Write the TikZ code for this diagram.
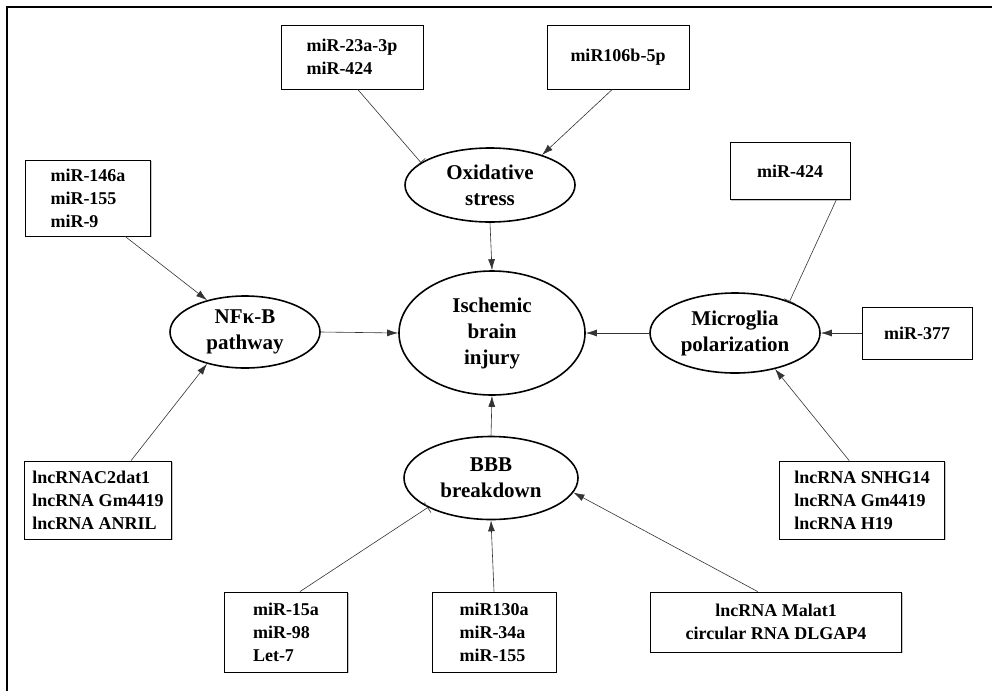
\documentclass[tikz,border=0pt]{standalone}
\usepackage{fontspec}
\setmainfont{Liberation Serif}
\usetikzlibrary{arrows.meta,positioning,shapes.geometric,shadows}

\tikzset{
  mirbox/.style={draw,line width=0.8pt,rectangle,align=left,fill=white,
    drop shadow={shadow xshift=1.3pt,shadow yshift=-1.3pt,fill=black!45},
    font=\bfseries\fontsize{18}{23}\selectfont},
  effect/.style={draw,line width=1.6pt,ellipse,align=center,inner sep=0pt,
    font=\bfseries\fontsize{21}{26}\selectfont},
  act/.style={-{Latex[length=11pt,width=7pt]},draw=black!80,line width=0.6pt},
  inh/.style={-{Bar[width=12pt]},draw=black!80,line width=0.6pt},
}

\begin{document}
\begin{tikzpicture}[x=1pt,y=-1pt]
  \useasboundingbox (0,0) rectangle (992,691);
  \draw[line width=1.6pt] (7,691) -- (7,7) -- (992,7);

  % processes
  \node[effect,minimum width=170pt,minimum height=74pt] (ox) at (490,185) {Oxidative\\stress};
  \node[effect,minimum width=186pt,minimum height=124pt] (isch) at (492,333) {Ischemic\\brain\\injury};
  \node[effect,minimum width=150pt,minimum height=72pt] (nfkb) at (245,332) {NFκ-B\\pathway};
  \node[effect,minimum width=170pt,minimum height=80pt] (micro) at (735,333) {Microglia\\polarization};
  \node[effect,minimum width=174pt,minimum height=83pt] (bbb) at (491,478) {BBB\\breakdown};

  % regulators
  \node[mirbox,minimum width=142pt,minimum height=64pt] (m23) at (352,57) {miR-23a-3p\\miR-424};
  \node[mirbox,minimum width=142pt,minimum height=64pt] (m106) at (618,57) {miR106b-5p};
  \node[mirbox,minimum width=125pt,minimum height=76pt] (m146) at (88,198) {miR-146a\\miR-155\\miR-9};
  \node[mirbox,minimum width=120pt,minimum height=57pt] (m424) at (790,171) {miR-424};
  \node[mirbox,minimum width=110pt,minimum height=52pt] (m377) at (917,333) {miR-377};
  \node[mirbox,minimum width=147pt,minimum height=78pt] (lncl) at (98,500) {lncRNAC2dat1\\lncRNA Gm4419\\lncRNA ANRIL};
  \node[mirbox,minimum width=165pt,minimum height=78pt] (lncr) at (862,500) {lncRNA SNHG14\\lncRNA Gm4419\\lncRNA H19};
  \node[mirbox,minimum width=123pt,minimum height=80pt] (m15) at (286,632) {miR-15a\\miR-98\\Let-7};
  \node[mirbox,minimum width=124pt,minimum height=80pt] (m130) at (494,632) {miR130a\\miR-34a\\miR-155};
  \node[mirbox,align=center,minimum width=251pt,minimum height=60pt] (malat) at (776,622) {lncRNA Malat1\\circular RNA DLGAP4};

  % links
  \draw[inh] (m23.-80) -- (ox.162);
  \draw[act] (m106.-100) -- (ox.30);
  \draw[act] (ox.south) -- (isch.north);
  \draw[act] (m146.-46) -- (nfkb.140);
  \draw[act] (lncl.50) -- (nfkb.-140);
  \draw[act] (nfkb.east) -- (isch.west);
  \draw[inh] (m424.-32) -- (micro.30);
  \draw[act] (m377.west) -- (micro.east);
  \draw[act] (lncr.108) -- (micro.-42);
  \draw[act] (micro.west) -- (isch.east);
  \draw[act] (bbb.north) -- (isch.south);
  \draw[inh] (m15.71) -- (bbb.-155);
  \draw[act] (m130.north) -- (bbb.south);
  \draw[act] (malat.121) -- (bbb.-10);
\end{tikzpicture}
\end{document}
